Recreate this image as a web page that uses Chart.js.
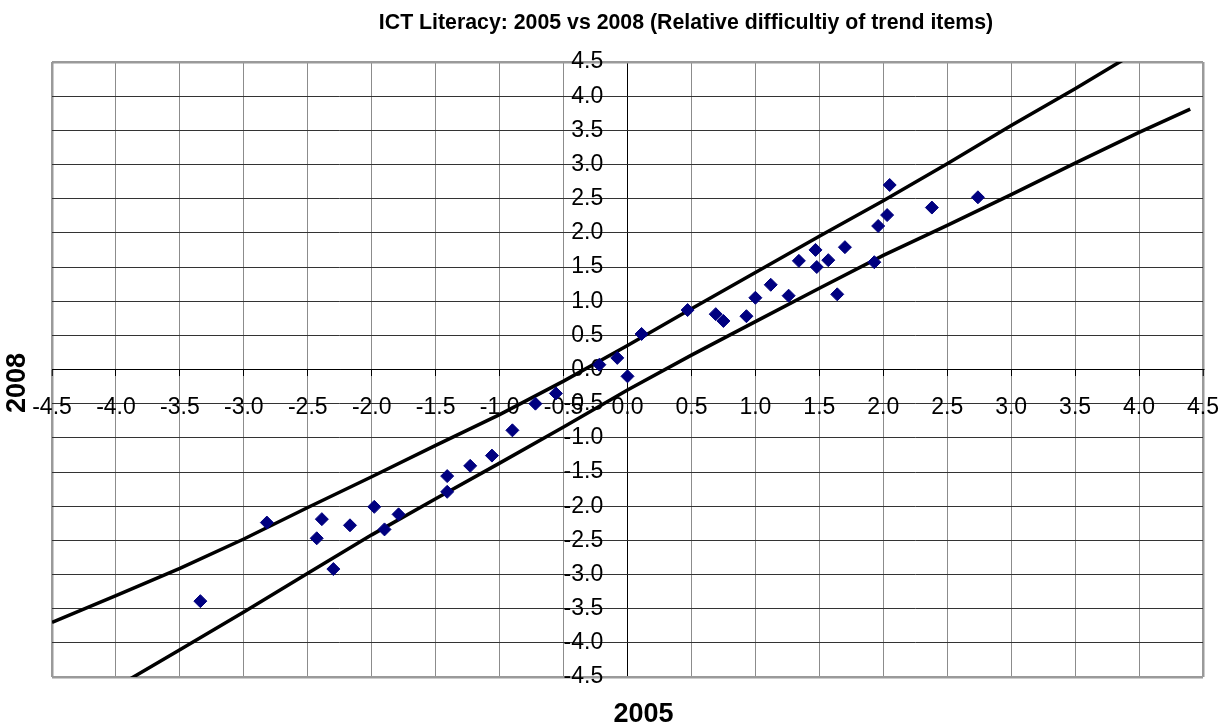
<!DOCTYPE html>
<html>
<head>
<meta charset="utf-8">
<title>ICT Literacy: 2005 vs 2008</title>
<script src="https://cdn.jsdelivr.net/npm/chart.js@4.4.1/dist/chart.umd.min.js"></script>
<style>
  html, body { margin: 0; padding: 0; background: #fff; }
  canvas { display: block; }
</style>
</head>
<body>
<canvas id="grafico" width="1220" height="724"></canvas>
<script>
// Textos del gráfico
const chartTitle = 'ICT Literacy: 2005 vs 2008 (Relative difficultiy of trend items)';
const xTitle = '2005';
const yTitle = '2008';

// Marcas de los ejes (cada 0.5)
const tickValues = [-4.5, -4.0, -3.5, -3.0, -2.5, -2.0, -1.5, -1.0, -0.5, 0.0,
                    0.5, 1.0, 1.5, 2.0, 2.5, 3.0, 3.5, 4.0, 4.5];

// Dificultad relativa de cada ítem: 2005 (x) y 2008 (y)
const items2005 = [-3.34, -2.82, -2.43, -2.39, -2.30, -2.17, -1.98, -1.90, -1.79, -1.41,
                   -1.41, -1.23, -1.06, -0.90, -0.72, -0.56, -0.22, -0.08, 0.00, 0.11,
                   0.47, 0.69, 0.75, 0.93, 1.00, 1.12, 1.26, 1.34, 1.47, 1.48,
                   1.57, 1.64, 1.70, 1.93, 1.96, 2.03, 2.05, 2.38, 2.74];
const items2008 = [-3.39, -2.24, -2.47, -2.19, -2.92, -2.28, -2.01, -2.34, -2.12, -1.56,
                   -1.79, -1.41, -1.26, -0.89, -0.50, -0.35, 0.07, 0.17, -0.10, 0.52,
                   0.87, 0.81, 0.71, 0.78, 1.05, 1.24, 1.08, 1.59, 1.75, 1.50,
                   1.60, 1.10, 1.79, 1.57, 2.10, 2.26, 2.70, 2.37, 2.52];

// Línea superior de la banda
const upperX = [-4.5, -4.0, -3.5, -3.0, -2.5, -2.0, -1.5, -1.0, -0.5, 0.0,
                0.5, 1.0, 1.5, 2.0, 2.5, 3.0, 3.5, 4.0, 4.4];
const upperY = [-3.70, -3.31, -2.91, -2.48, -2.02, -1.57, -1.11, -0.66, -0.17, 0.35,
                0.89, 1.42, 1.95, 2.47, 3.01, 3.57, 4.11, 4.67, 5.12];

// Línea inferior de la banda
const lowerX = [-4.4, -4.0, -3.5, -3.0, -2.5, -2.0, -1.5, -1.0, -0.5, 0.0,
                0.5, 1.0, 1.5, 2.0, 2.5, 3.0, 3.5, 4.0, 4.4];
const lowerY = [-5.09, -4.65, -4.10, -3.55, -2.98, -2.42, -1.89, -1.37, -0.84, -0.30,
                0.21, 0.70, 1.19, 1.67, 2.11, 2.56, 3.02, 3.47, 3.81];

const toPoints = (xs, ys) => xs.map((x, i) => ({ x: x, y: ys[i] }));

const fontFamily = '"Liberation Sans", Arial, sans-serif';

// Títulos dibujados sobre el lienzo
const textLabels = {
    id: 'textLabels',
    afterDraw(chart) {
        const c = chart.ctx;
        c.save();
        c.fillStyle = '#000';
        c.textAlign = 'center';
        c.textBaseline = 'alphabetic';
        c.font = 'bold 21.3px ' + fontFamily;
        c.fillText(chartTitle, 686, 29);
        c.font = 'bold 27px ' + fontFamily;
        c.fillText(xTitle, 643.5, 722);
        c.translate(25, 383);
        c.rotate(-Math.PI / 2);
        c.fillText(yTitle, 0, 0);
        c.restore();
    }
};

function edge(v) { return Math.abs(v) === 4.5; }

const tickFont = { family: fontFamily, size: 23 };

new Chart(document.getElementById('grafico').getContext('2d'), {
    type: 'scatter',
    data: {
        datasets: [{
            label: 'Items',
            data: toPoints(items2005, items2008),
            backgroundColor: '#000080',
            borderColor: '#000080',
            borderWidth: 1,
            pointStyle: 'rectRot',
            pointRadius: 6.5
        }, {
            label: 'Upper',
            data: toPoints(upperX, upperY),
            showLine: true,
            borderColor: '#000',
            borderWidth: 3.5,
            pointRadius: 0,
            fill: false
        }, {
            label: 'Lower',
            data: toPoints(lowerX, lowerY),
            showLine: true,
            borderColor: '#000',
            borderWidth: 3.5,
            pointRadius: 0,
            fill: false
        }]
    },
    options: {
        responsive: false,
        animation: false,
        events: [],
        layout: { padding: { left: 52, right: 17, top: 62, bottom: 47 } },
        plugins: {
            legend: { display: false },
            tooltip: { enabled: false }
        },
        scales: {
            x: {
                type: 'linear',
                position: { y: 0 },
                min: -4.5,
                max: 4.5,
                afterBuildTicks: s => { s.ticks = tickValues.map(v => ({ value: v })); },
                afterFit: s => {
                    s.height = 0;
                    s.paddingLeft = 0;
                    s.paddingRight = 0;
                },
                ticks: {
                    font: tickFont,
                    color: '#000',
                    padding: 18,
                    maxRotation: 0,
                    autoSkip: false,
                    callback: v => v.toFixed(1)
                },
                grid: {
                    // la línea vertical en 0 hace de eje Y
                    color: ctx => ctx.tick.value === 0 ? '#000' : (edge(ctx.tick.value) ? '#9a9a9a' : '#8c8c8c'),
                    lineWidth: ctx => edge(ctx.tick.value) ? 2.5 : 1,
                    tickLength: 6,
                    tickColor: '#000',
                    tickWidth: 1
                },
                border: { color: '#000', width: 1 }
            },
            y: {
                type: 'linear',
                // etiquetas a la izquierda del eje, separadas ~24px
                position: { x: -0.19 },
                min: -4.5,
                max: 4.5,
                afterBuildTicks: s => { s.ticks = tickValues.map(v => ({ value: v })); },
                afterFit: s => {
                    s.width = 0;
                    s.paddingTop = 0;
                    s.paddingBottom = 0;
                },
                ticks: {
                    font: tickFont,
                    color: '#000',
                    padding: 0,
                    autoSkip: false,
                    callback: v => v.toFixed(1)
                },
                grid: {
                    color: ctx => edge(ctx.tick.value) ? '#9a9a9a' : '#333',
                    lineWidth: ctx => edge(ctx.tick.value) ? 2.5 : 1,
                    tickLength: 6,
                    tickColor: 'rgba(0,0,0,0)',
                    tickWidth: 1
                },
                border: { display: false }
            }
        }
    },
    plugins: [textLabels]
});
</script>
</body>
</html>
